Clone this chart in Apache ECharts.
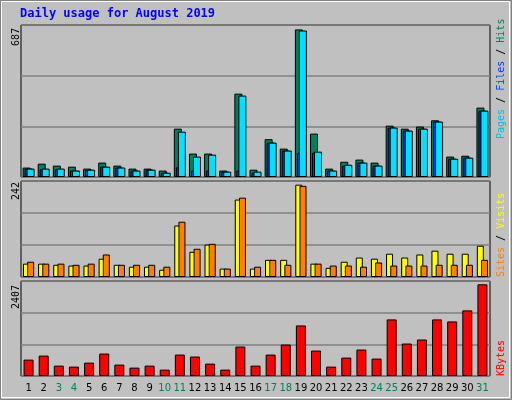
<!DOCTYPE html><html><head><meta charset="utf-8">
<script src="https://cdn.jsdelivr.net/npm/echarts@6/dist/echarts.min.js"></script>
<style>html,body{margin:0;padding:0;background:#c0c0c0}#c{width:512px;height:400px}</style></head><body><div id="c"></div><script>
const days=['1','2','3','4','5','6','7','8','9','10','11','12','13','14','15','16','17','18','19','20','21','22','23','24','25','26','27','28','29','30','31'];
const weekend=['3','4','10','11','17','18','24','25','31'];
const hits=[44,62,53,48,39,67,53,39,39,30,225,109,109,30,388,34,176,132,687,202,39,71,81,67,239,225,235,264,95,99,323];
const files=[39,36,36,30,34,48,44,30,34,20,45,30,30,25,30,20,160,123,113,113,30,53,67,53,230,216,225,258,85,90,309];
const pages=[39,39,39,30,34,48,44,30,34,20,211,95,104,25,379,25,160,123,682,118,30,57,67,53,230,216,225,258,85,90,309];
const visits=[35,35,32,30,30,48,32,27,27,19,135,66,85,22,203,22,45,45,242,35,24,40,51,48,61,51,59,69,61,61,82];
const sites=[40,35,35,32,35,59,32,32,32,27,145,74,87,22,208,27,45,32,239,35,30,30,27,38,30,30,30,32,32,32,45];
const kbytes=[430,536,272,246,351,589,299,220,272,167,562,510,325,167,773,272,562,826,1327,668,246,483,694,457,1485,852,958,1485,1432,1722,2407];

const ch=echarts.init(document.getElementById('c'));
const M1=Math.max(...hits)*1.03, M2=Math.max(...visits)*1.04, M3=Math.max(...kbytes)*1.036;
const grids=[{left:21,right:22,top:25,height:152},{left:21,right:22,top:181,height:96},{left:21,right:22,top:281,height:95}];
const xa=grids.map((g,i)=>({gridIndex:i,type:'category',data:days,axisTick:{show:false},axisLine:{show:false},
 axisLabel:{show:i===2,interval:0,margin:7,fontFamily:'DejaVu Sans',fontSize:10,color:v=>weekend.includes(v)?'#00805c':'#000'}}));
const ya=[M1,M2,M3].map((m,i)=>({gridIndex:i,type:'value',min:0,max:m,interval:m/3,axisLabel:{show:false},axisLine:{show:false},axisTick:{show:false},splitLine:{lineStyle:{color:'#808080',width:1.5}}}));
const bs=(name,d,color,xi,extra)=>Object.assign({type:'bar',name,data:d,xAxisIndex:xi,yAxisIndex:xi,barWidth:8,barGap:'-62%',
 itemStyle:{color,borderColor:'#000',borderWidth:1},animation:false},extra||{});
const F='"DejaVu Sans Mono"';
const rt=(x,y,rich)=>({type:'text',x,y,rotation:Math.PI/2,style:{text:rich.map(r=>'{'+r[1]+'|'+r[0]+'}').join(''),
 align:'left',verticalAlign:'top',font:'10px '+F,rich:{k:{fill:'#000'},g:{fill:'#00805c'},b:{fill:'#0040ff'},c:{fill:'#00c0e0'},
 y:{fill:'#ffff00'},o:{fill:'#ff8000'},r:{fill:'#ff0000'}}}});
ch.setOption({animation:false,backgroundColor:'#c0c0c0',
 grid:grids.map(g=>Object.assign({show:true,backgroundColor:'#c0c0c0',borderColor:'#000',borderWidth:1},g)),
 xAxis:xa,yAxis:ya,
 series:[bs('Hits',hits,'#00805c',0,{barGap:'-75%'}),bs('Files',files,'#0040ff',0,{barGap:'-75%'}),bs('Pages',pages,'#00e0ff',0,{barGap:'-75%'}),
  bs('Visits',visits,'#ffff00',1,{barWidth:7,barGap:'-40%'}),bs('Sites',sites,'#ff8000',1,{barWidth:7,barGap:'-40%'}),
  bs('KBytes',kbytes,'#ff0000',2,{barWidth:10})],
 graphic:[
  {type:'rect',shape:{x:0.5,y:0.5,width:511,height:399},style:{fill:'none',stroke:'#808080',lineWidth:1}},
  {type:'rect',shape:{x:1.5,y:1.5,width:508,height:396},style:{fill:'none',stroke:'#fff',lineWidth:1}},
  {type:'text',left:20,top:8,style:{text:'Daily usage for August 2019',fill:'#0000ff',font:'bold 12px '+F}},
  rt(11,46,[[String(Math.max(...hits)),'k']]),
  rt(11,200,[[String(Math.max(...visits)),'k']]),
  rt(11,309,[[String(Math.max(...kbytes)),'k']]),
  rt(496,139,[['Pages','c'],[' / ','k'],['Files','b'],[' / ','k'],['Hits','g']]),
  rt(496,277,[['Sites','o'],[' / ','k'],['Visits','y']]),
  rt(496,376,[['KBytes','r']])
 ]});
</script></body></html>
